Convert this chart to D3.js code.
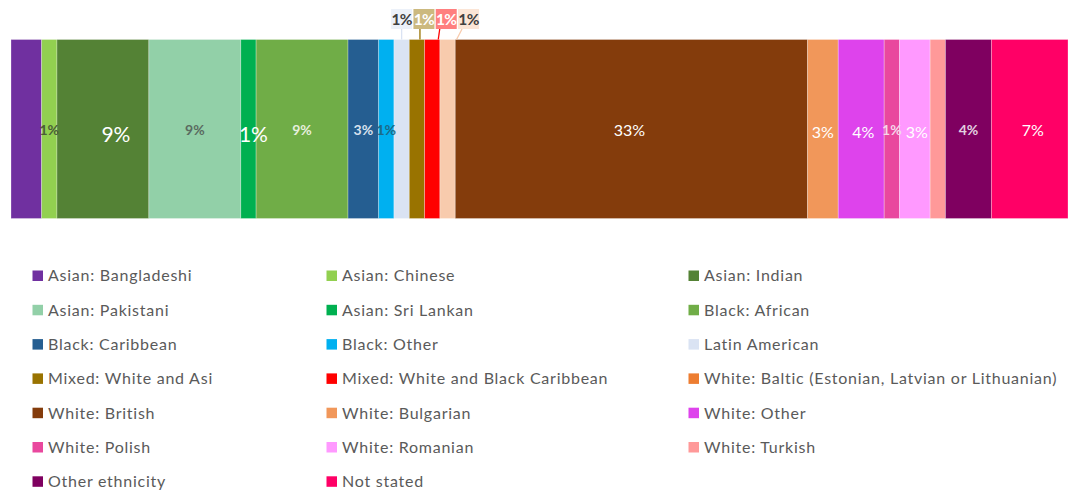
<!DOCTYPE html>
<html>
<head>
<meta charset="utf-8">
<script src="https://cdn.jsdelivr.net/npm/d3@7"></script>
<style>
  html, body { margin: 0; padding: 0; background: #ffffff; }
  svg { display: block; }
</style>
</head>
<body>
<svg id="chart" width="1068" height="492"></svg>
<script>
// ---- data ----
const categories = [
  "Asian: Bangladeshi", "Asian: Chinese", "Asian: Indian",
  "Asian: Pakistani", "Asian: Sri Lankan", "Black: African",
  "Black: Caribbean", "Black: Other", "Latin American",
  "Mixed: White and Asi", "Mixed: White and Black Caribbean", "White: Baltic (Estonian, Latvian or Lithuanian)",
  "White: British", "White: Bulgarian", "White: Other",
  "White: Polish", "White: Romanian", "White: Turkish",
  "Other ethnicity", "Not stated"
];
// respondent counts (labels are their rounded shares)
const counts = [2, 1, 6, 6, 1, 6, 2, 1, 1, 1, 1, 1, 23, 2, 3, 1, 2, 1, 3, 5];
const shownLabels = [false, true, true, true, true, true, true, true, true, true, true, true, true, true, true, true, true, false, true, true];
const calloutCategories = ["Latin American", "Mixed: White and Asi", "Mixed: White and Black Caribbean", "White: Baltic (Estonian, Latvian or Lithuanian)"];

// ---- styles ----
const barColors = ["#7030A0", "#92D050", "#548235", "#92D0A8", "#00B050", "#70AD47",
  "#255E91", "#00B0F0", "#DAE3F3", "#997300", "#FF0000", "#F8CBAD",
  "#843C0C", "#F1975A", "#DE43EC", "#E9489E", "#FF99FF", "#FF9999",
  "#7F0060", "#FF0066"];
const legendColors = barColors.slice();
legendColors[11] = "#ED7D31";
// inside-label style: [color, size, weight, dx, baseline]
const insideStyle = {
  "Asian: Chinese": ["#4B5E38", 14, 700, 0, 135],
  "Asian: Indian": ["#ffffff", 21, 400, 13, 142],
  "Asian: Pakistani": ["#5A6B60", 14, 700, 0, 135],
  "Asian: Sri Lankan": ["#ffffff", 21, 400, 5, 142],
  "Black: African": ["#E6EFDD", 14, 700, 0, 135],
  "Black: Caribbean": ["#D8E2EE", 14, 700, 0, 135],
  "Black: Other": ["#1C6A88", 14, 700, 0, 135],
  "White: British": ["#ffffff", 16, 400, -2, 136],
  "White: Bulgarian": ["#ffffff", 16, 400, 0, 138],
  "White: Other": ["#ffffff", 16, 400, 2, 138],
  "White: Polish": ["#F6D6EA", 14, 700, 0, 135],
  "White: Romanian": ["#ffffff", 16, 400, 2, 138],
  "Other ethnicity": ["#E2D0E0", 14, 700, 0, 135],
  "Not stated": ["#ffffff", 16, 400, 3, 136]
};
const calloutTextColors = ["#404040", "#ffffff", "#ffffff", "#404040"];

const FONT = "Lato, 'Open Sans', sans-serif";
const svg = d3.select("#chart");

const total = d3.sum(counts);
const x = d3.scaleLinear().domain([0, total]).range([11, 1068]);
const barTop = 39.5, barBottom = 218.5;

let cum = 0;
const segs = categories.map((c, i) => {
  const s = { name: c, i, v: counts[i], x0: cum, x1: cum + counts[i] };
  cum += counts[i];
  return s;
});

// bars
svg.append("g").selectAll("rect").data(segs).join("rect")
  .attr("x", d => x(d.x0))
  .attr("y", barTop)
  .attr("width", d => x(d.x1) - x(d.x0))
  .attr("height", barBottom - barTop)
  .attr("fill", d => barColors[d.i])
  .attr("stroke", "#ffffff")
  .attr("stroke-opacity", 0.35)
  .attr("stroke-width", 0.8);

const pct = v => Math.round(v / total * 100) + "%";

// inside labels
svg.append("g").selectAll("text")
  .data(segs.filter(d => shownLabels[d.i] && insideStyle[d.name]))
  .join("text")
  .attr("x", d => x((d.x0 + d.x1) / 2) + insideStyle[d.name][3])
  .attr("y", d => insideStyle[d.name][4])
  .attr("text-anchor", "middle")
  .attr("font-family", FONT)
  .attr("font-size", d => insideStyle[d.name][1])
  .attr("font-weight", d => insideStyle[d.name][2])
  .attr("fill", d => insideStyle[d.name][0])
  .text(d => pct(d.v));

// callout labels
const callouts = segs.filter(d => calloutCategories.includes(d.name));
const boxW = 21, boxH = 20, boxTop = 9, boxGap = 22.3;
const firstCenter = x((callouts[0].x0 + callouts[0].x1) / 2);
const cg = svg.append("g");
callouts.forEach((d, k) => {
  const cx = firstCenter + k * boxGap;
  const endX = x((d.x0 + d.x1) / 2) + k * 3;
  const startX = Math.max(cx - boxW / 2 + 4, Math.min(cx + boxW / 2 - 4, endX));
  cg.append("line")
    .attr("x1", startX).attr("y1", boxTop + boxH)
    .attr("x2", endX).attr("y2", barTop)
    .attr("stroke", barColors[d.i]).attr("stroke-width", 1.3);
  cg.append("rect")
    .attr("x", cx - boxW / 2).attr("y", boxTop)
    .attr("width", boxW).attr("height", boxH)
    .attr("fill", barColors[d.i]).attr("fill-opacity", 0.5);
  cg.append("text")
    .attr("x", cx).attr("y", boxTop + 15.6)
    .attr("text-anchor", "middle")
    .attr("font-family", FONT)
    .attr("font-size", 15.5)
    .attr("font-weight", 700)
    .attr("letter-spacing", -0.6)
    .attr("fill", calloutTextColors[k])
    .text(pct(d.v));
});

// legend
const colX = [32.5, 326.5, 688.5];
const rowY0 = 275.7, rowStep = 34.3;
const lg = svg.append("g").selectAll("g").data(segs).join("g")
  .attr("transform", d => `translate(${colX[d.i % 3]},${rowY0 + Math.floor(d.i / 3) * rowStep})`);
lg.append("rect")
  .attr("x", 0).attr("y", -5.2)
  .attr("width", 10.5).attr("height", 10.5)
  .attr("fill", d => legendColors[d.i]);
lg.append("text")
  .attr("x", 15.5).attr("y", 5.6)
  .attr("font-family", FONT)
  .attr("font-size", 16)
  .attr("letter-spacing", 0.75)
  .attr("fill", "#5A5A5A")
  .text(d => d.name);
</script>
</body>
</html>
